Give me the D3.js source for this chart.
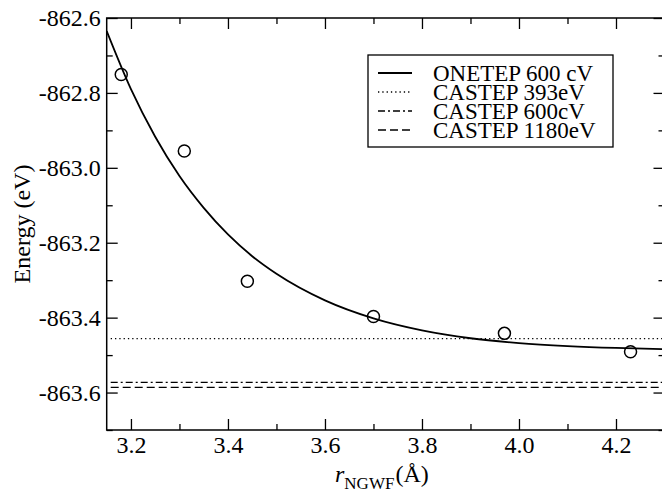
<!DOCTYPE html>
<html><head><meta charset="utf-8">
<script src="https://cdn.jsdelivr.net/npm/d3@7"></script>
<style>body{margin:0;background:#fff}svg{display:block}text{font-family:"Liberation Serif","Times New Roman",serif}</style>
</head><body><svg id="c" width="662" height="492"></svg>
<script>
// Data
const pointX = [3.18, 3.31, 3.44, 3.70, 3.97, 4.23];
const pointE = [-862.751, -862.955, -863.303, -863.397, -863.442, -863.491];
const curveX = [3.15, 3.20, 3.25, 3.30, 3.35, 3.40, 3.45, 3.50, 3.60, 3.70, 3.80, 3.90, 4.00, 4.10, 4.20, 4.30];
const curveE = [-862.635, -862.790, -862.917, -863.022, -863.107, -863.178, -863.236, -863.283, -863.354, -863.402, -863.434, -863.455, -863.468, -863.476, -863.481, -863.484];
const refNames = ["CASTEP 393eV", "CASTEP 600cV", "CASTEP 1180eV"];
const refE = [-863.456, -863.573, -863.586];
const legendNames = ["ONETEP 600 cV", "CASTEP 393eV", "CASTEP 600cV", "CASTEP 1180eV"];
const xMajor = [3.2, 3.4, 3.6, 3.8, 4.0, 4.2];
const xMinor = [3.3, 3.5, 3.7, 3.9, 4.1, 4.3];
const yMajor = [-862.6, -862.8, -863.0, -863.2, -863.4, -863.6];
const yMinor = [-862.7, -862.9, -863.1, -863.3, -863.5, -863.7];

const L = 106.7, T = 18, R = 664.5, B = 430;
const svg = d3.select("#c");
const x = d3.scaleLinear().domain([3.15, 4.3]).range([L, R]);
const y = d3.scaleLinear().domain([-863.7, -862.6]).range([B, T]);
const fmt = d => d.toFixed(1);

svg.append("defs").append("clipPath").attr("id","clip")
  .append("rect").attr("x",L).attr("y",T).attr("width",R-L).attr("height",B-T);

function styleAxis(g){
  g.select(".domain").remove();
  g.selectAll("line").attr("stroke","#000").attr("stroke-width",1.3);
  g.selectAll("text").attr("font-size",24).attr("fill","#000").attr("font-family","Liberation Serif");
}
// bottom
svg.append("g").attr("transform",`translate(0,${B})`)
  .call(d3.axisBottom(x).tickValues(xMajor).tickFormat(fmt).tickSize(-11).tickPadding(6)).call(styleAxis);
svg.append("g").attr("transform",`translate(0,${B})`)
  .call(d3.axisBottom(x).tickValues(xMinor).tickFormat("").tickSize(-6)).call(styleAxis);
// top
svg.append("g").attr("transform",`translate(0,${T})`)
  .call(d3.axisTop(x).tickValues(xMajor).tickFormat("").tickSize(-11)).call(styleAxis);
svg.append("g").attr("transform",`translate(0,${T})`)
  .call(d3.axisTop(x).tickValues(xMinor).tickFormat("").tickSize(-6)).call(styleAxis);
// left
svg.append("g").attr("transform",`translate(${L},0)`)
  .call(d3.axisLeft(y).tickValues(yMajor).tickFormat(fmt).tickSize(-11).tickPadding(6)).call(styleAxis);
svg.append("g").attr("transform",`translate(${L},0)`)
  .call(d3.axisLeft(y).tickValues(yMinor).tickFormat("").tickSize(-6)).call(styleAxis);
// right
svg.append("g").attr("transform",`translate(${R},0)`)
  .call(d3.axisRight(y).tickValues(yMajor).tickFormat("").tickSize(-11)).call(styleAxis);
svg.append("g").attr("transform",`translate(${R},0)`)
  .call(d3.axisRight(y).tickValues(yMinor).tickFormat("").tickSize(-6)).call(styleAxis);

// frame
svg.append("rect").attr("x",L).attr("y",T).attr("width",R-L).attr("height",B-T)
  .attr("fill","none").attr("stroke","#000").attr("stroke-width",1.5);

const dashes = ["1.3,3", "7,3,2,3", "8,4"];
const plot = svg.append("g").attr("clip-path","url(#clip)");
refE.forEach((e,i)=>{
  plot.append("line").attr("x1",x(3.15)+4).attr("x2",R).attr("y1",y(e)).attr("y2",y(e))
    .attr("stroke","#000").attr("stroke-width",1.3).attr("stroke-dasharray",dashes[i]);
});
const line = d3.line().x((d,i)=>x(curveX[i])).y((d,i)=>y(curveE[i])).curve(d3.curveMonotoneX);
plot.append("path").datum(curveE).attr("d",line).attr("fill","none").attr("stroke","#000").attr("stroke-width",1.8);
plot.selectAll("circle.pt").data(pointE).join("circle").attr("class","pt")
  .attr("cx",(d,i)=>x(pointX[i])).attr("cy",d=>y(d)).attr("r",6)
  .attr("fill","none").attr("stroke","#000").attr("stroke-width",1.5);

// legend
const lg = svg.append("g");
lg.append("rect").attr("x",368).attr("y",55).attr("width",245).attr("height",92)
  .attr("fill","#fff").attr("stroke","#000").attr("stroke-width",1.3);
const legDash = [null].concat(dashes);
legendNames.forEach((n,i)=>{
  const yy = 73 + i*19;
  lg.append("line").attr("x1",378).attr("x2",412).attr("y1",yy).attr("y2",yy)
    .attr("stroke","#000").attr("stroke-width",i===0?1.8:1.3).attr("stroke-dasharray",legDash[i]);
  lg.append("text").attr("x",433).attr("y",yy).attr("dy","0.33em").attr("font-size",23).text(n);
});

// axis titles
svg.append("text").attr("transform","translate(30,224) rotate(-90)").attr("text-anchor","middle")
  .attr("font-size",24).text("Energy (eV)");
const xt = svg.append("text").attr("x",335).attr("y",482).attr("font-size",24);
xt.append("tspan").attr("font-style","italic").text("r");
xt.append("tspan").attr("font-size",17).attr("dy",7).text("NGWF");
xt.append("tspan").attr("font-size",24).attr("dy",-7).attr("dx",1).text("(Å)");
</script></body></html>
